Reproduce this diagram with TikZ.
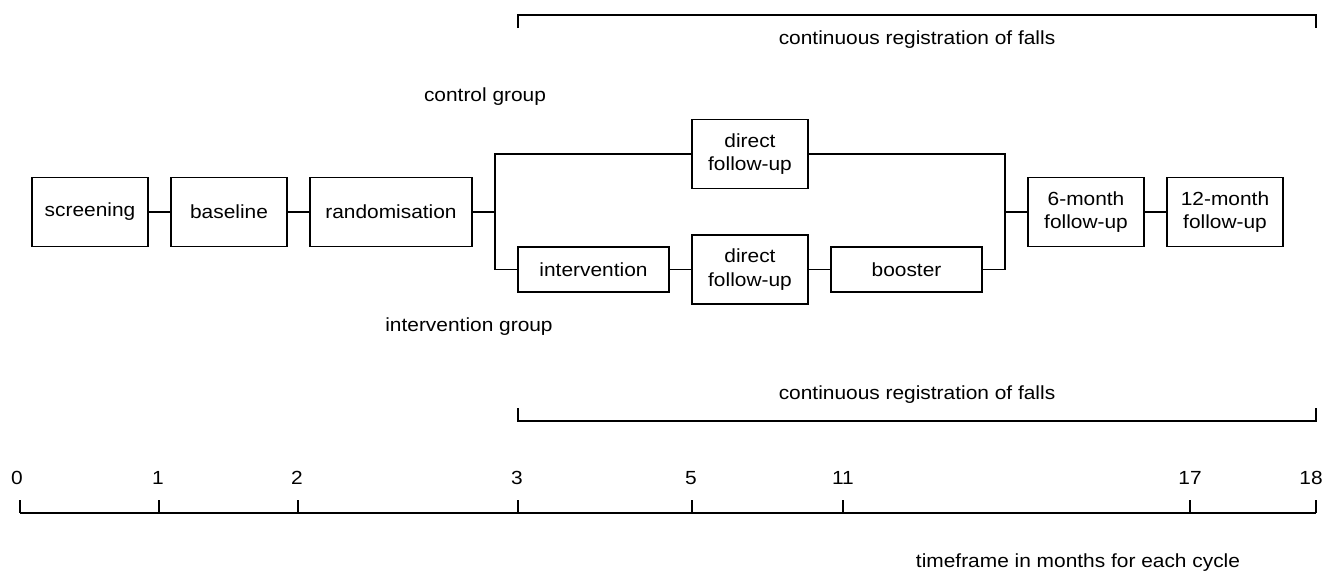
\documentclass[tikz,border=0pt]{standalone}
\usepackage{fontspec}
\setmainfont{Liberation Sans}[FakeStretch=1.1]
\newcommand\diagfont{\fontsize{19}{23.5}\selectfont}
\begin{document}
\begin{tikzpicture}[x=1pt,y=-1pt,
  box/.style={draw,line width=1.4pt,minimum height=69pt,inner sep=0pt,align=center,font=\diagfont},
  lbl/.style={inner sep=0pt,font=\diagfont},
  ln/.style={line width=1.4pt}]
\useasboundingbox (0,0) rectangle (1328,574);
% main row
\node[box,minimum width=116pt] (scr) at (90,212) {screening};
\node[box,minimum width=116pt] (base) at (229,212) {baseline};
\node[box,minimum width=162pt] (rand) at (391,212) {randomisation};
\node[box,minimum width=116pt] (cfu) at (750,154) {direct\\follow-up};
\node[box,minimum width=151pt,minimum height=45pt] (int) at (593.5,269.5) {intervention};
\node[box,minimum width=116pt] (ifu) at (750,269.5) {direct\\follow-up};
\node[box,minimum width=151pt,minimum height=45pt] (boo) at (906.5,269.5) {booster};
\node[box,minimum width=116pt] (m6) at (1086,212) {6-month\\follow-up};
\node[box,minimum width=116pt] (m12) at (1225,212) {12-month\\follow-up};
\coordinate (jl) at (495,212);
\coordinate (jr) at (1005,212);
\draw[ln] (scr) -- (base);
\draw[ln] (base) -- (rand);
\draw[ln] (rand.east) -- (jl);
\draw[ln] (cfu.west) -| (jl) |- (int.west);
\draw[ln] (int) -- (ifu);
\draw[ln] (ifu) -- (boo);
\draw[ln] (cfu.east) -| (jr) |- (boo.east);
\draw[ln] (jr) -- (m6);
\draw[ln] (m6) -- (m12);
% group labels
\node[lbl] (cg) at (485,97) {control group};
\node[lbl] (ig) at (469,327) {intervention group};
% top bracket
\coordinate (tA) at (518,28); \coordinate (tB) at (518,15);
\coordinate (tC) at (1316,15); \coordinate (tD) at (1316,28);
\draw[ln] (tA) -- (tB) -- (tC) -- (tD);
\node[lbl] (ttop) at (917,40) {continuous registration of falls};
% bottom bracket
\coordinate (bA) at (518,408); \coordinate (bB) at (518,421);
\coordinate (bC) at (1316,421); \coordinate (bD) at (1316,408);
\draw[ln] (bA) -- (bB) -- (bC) -- (bD);
\node[lbl] (tbot) at (917,395) {continuous registration of falls};
% axis
\coordinate (a0) at (20,513); \coordinate (a18) at (1316,513);
\draw[ln] (a0) -- (a18);
\foreach \x/\lx/\t in {20/17/0,159/158/1,298/297/2,518/517/3,692/691/5,843/843/11,1190/1190/17,1316/1311/18}{
  \draw[ln] (\x,500) -- (\x,513);
  \node[lbl] at (\lx,478) {\t};
}
\node[lbl] (tf) at (1078,563) {timeframe in months for each cycle};
\end{tikzpicture}
\end{document}
